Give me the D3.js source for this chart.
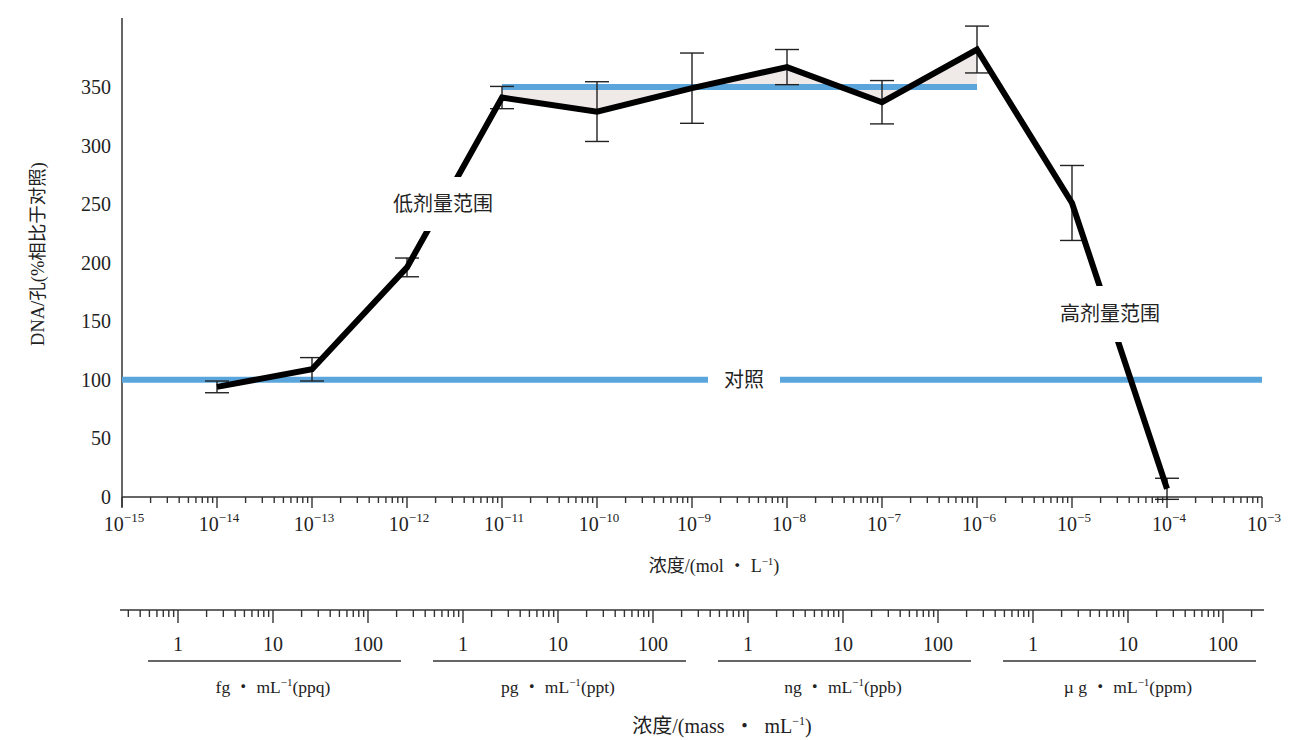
<!DOCTYPE html>
<html>
<head>
<meta charset="utf-8">
<script src="https://cdn.jsdelivr.net/npm/d3@7/dist/d3.min.js"></script>
<style>
  html, body { margin: 0; padding: 0; background: #fff; }
  svg { display: block; }
  text { font-family: "Liberation Serif", "Noto Sans CJK SC", serif; fill: #222; }
  .cjk { font-family: "Noto Sans CJK SC", "Liberation Serif", sans-serif; }
</style>
</head>
<body>
<svg id="chart" width="1294" height="740"></svg>
<script>
// ---------- data ----------
const exponents = [-14, -13, -12, -11, -10, -9, -8, -7, -6, -5, -4];          // mol/L = 10^exp
const dnaValues = [94, 109, 196, 341, 329, 349, 367, 337, 382, 251, 7];        // % of control
const dnaErrors = [5, 10, 8, 9.5, 25.5, 30, 15, 18.5, 20, 32, 9];
const yTicks = [0, 50, 100, 150, 200, 250, 300, 350];
const xDecades = [-15, -14, -13, -12, -11, -10, -9, -8, -7, -6, -5, -4, -3];
const controlValue = 100;
const plateauValue = 350;
const plateauRange = [-11, -6];
const massUnits = ["fg", "pg", "ng", "\u00b5 g"];
const massUnitSuffix = ["(ppq)", "(ppt)", "(ppb)", "(ppm)"];
const massUnitExp = [-15, -12, -9, -6];     // g/mL of 1 unit
const massTickLabels = ["1", "10", "100"];

// ---------- layout ----------
const svg = d3.select("#chart");
const x = d3.scaleLog().domain([1e-15, 1e-3]).range([122, 1262]);
const y = d3.scaleLinear().domain([0, 350]).range([497, 87]);
const BLUE = "#5aa6dc";
const FILL = "#efe9e8";

const pts = exponents.map((e, i) => ({ c: Math.pow(10, e), v: dnaValues[i], err: dnaErrors[i], e }));

// ---------- shaded area between curve and plateau line ----------
const plateauPts = pts.filter(p => p.e >= plateauRange[0] && p.e <= plateauRange[1]);
svg.append("path")
  .datum(plateauPts)
  .attr("d", d3.area().x(d => x(d.c)).y0(y(plateauValue)).y1(d => y(d.v)))
  .attr("fill", FILL);

// ---------- y axis ----------
const y0 = y(0);
svg.append("line").attr("x1", x(1e-15)).attr("x2", x(1e-15))
  .attr("y1", 18).attr("y2", y0 + 10).attr("stroke", "#333").attr("stroke-width", 1.5);
svg.selectAll(".ytl").data(yTicks).enter().append("text")
  .attr("x", 111).attr("y", d => y(d)).attr("dy", "0.35em")
  .attr("text-anchor", "end").attr("font-size", 20).text(d => d);
svg.append("text")
  .attr("transform", `translate(44,254) rotate(-90)`)
  .attr("text-anchor", "middle").attr("font-size", 18.5)
  .text("DNA/孔(%相比于对照)");

// ---------- main x axis ----------
svg.append("line").attr("x1", x(1e-15)).attr("x2", x(1e-3))
  .attr("y1", y0).attr("y2", y0).attr("stroke", "#333").attr("stroke-width", 1.5);
const xt = [];
for (let d = -15; d < -3; d++) for (let k = 2; k <= 9; k++) xt.push({ v: k * Math.pow(10, d), major: false });
xDecades.forEach(d => xt.push({ v: Math.pow(10, d), major: true }));
svg.selectAll(".xtick").data(xt).enter().append("line")
  .attr("x1", d => x(d.v)).attr("x2", d => x(d.v))
  .attr("y1", y0).attr("y2", d => y0 + (d.major ? 11 : 6))
  .attr("stroke", "#333").attr("stroke-width", 1.4);
const xl = svg.selectAll(".xtl").data(xDecades).enter().append("text")
  .attr("x", d => x(Math.pow(10, d)) + 2).attr("y", 531)
  .attr("text-anchor", "middle").attr("font-size", 20);
xl.append("tspan").text("10");
xl.append("tspan").attr("dy", -9).attr("font-size", 13).text(d => "\u2212" + Math.abs(d));
const xt1 = svg.append("text").attr("x", 714).attr("y", 572).attr("text-anchor", "middle").attr("font-size", 18);
xt1.append("tspan").attr("class", "cjk").text("浓度");
xt1.append("tspan").text("/(mol \u30fb L");
xt1.append("tspan").attr("dy", -7).attr("font-size", 11).text("\u22121");
xt1.append("tspan").attr("dy", 7).text(")");

// ---------- reference lines ----------
svg.append("line").attr("x1", x(1e-15)).attr("x2", x(1e-3))
  .attr("y1", y(controlValue)).attr("y2", y(controlValue))
  .attr("stroke", BLUE).attr("stroke-width", 6);
svg.append("line").attr("x1", x(Math.pow(10, plateauRange[0]))).attr("x2", x(Math.pow(10, plateauRange[1])))
  .attr("y1", y(plateauValue)).attr("y2", y(plateauValue))
  .attr("stroke", BLUE).attr("stroke-width", 6);

// ---------- error bars ----------
const eb = svg.selectAll(".eb").data(pts).enter().append("g").attr("stroke", "#222").attr("stroke-width", 1.4);
eb.append("line").attr("x1", d => x(d.c)).attr("x2", d => x(d.c))
  .attr("y1", d => y(d.v + d.err)).attr("y2", d => y(d.v - d.err));
eb.append("line").attr("x1", d => x(d.c) - 12).attr("x2", d => x(d.c) + 12)
  .attr("y1", d => y(d.v + d.err)).attr("y2", d => y(d.v + d.err));
eb.append("line").attr("x1", d => x(d.c) - 12).attr("x2", d => x(d.c) + 12)
  .attr("y1", d => y(d.v - d.err)).attr("y2", d => y(d.v - d.err));

// ---------- data line ----------
svg.append("path").datum(pts)
  .attr("d", d3.line().x(d => x(d.c)).y(d => y(d.v)))
  .attr("fill", "none").attr("stroke", "#000").attr("stroke-width", 6)
  .attr("stroke-linejoin", "miter");

// ---------- labels with white knock-outs ----------
function label(txt, cx, cy, padX, padY, size) {
  const t = svg.append("text").attr("class", "cjk").attr("x", cx).attr("y", cy).attr("dy", "0.35em")
    .attr("text-anchor", "middle").attr("font-size", size).text(txt);
  const bb = t.node().getBBox();
  svg.insert("rect", () => t.node())
    .attr("x", bb.x - padX).attr("y", cy - padY).attr("width", bb.width + 2 * padX).attr("height", 2 * padY)
    .attr("fill", "#fff");
}
label("低剂量范围", 443, 204, 4, 27, 20);
label("高剂量范围", 1110, 314, 4, 28, 20);
label("对照", 744, y(controlValue), 16, 8, 20);

// ---------- mass axis ----------
const massY = 610;
const mx = d3.scaleLog().domain([1e-15, 1e-4]).range([178, 178 + 11 * 95]);
const mStart = 120, mEnd = 1264;
svg.append("line").attr("x1", mStart).attr("x2", mEnd).attr("y1", massY).attr("y2", massY)
  .attr("stroke", "#333").attr("stroke-width", 1.5);
const mt = [];
for (let d = -16; d <= -4; d++) for (let k = 1; k <= 9; k++) {
  const v = k * Math.pow(10, d);
  const px = mx(v);
  if (px >= mStart && px <= mEnd) mt.push({ v, major: k === 1 });
}
svg.selectAll(".mtick").data(mt).enter().append("line")
  .attr("x1", d => mx(d.v)).attr("x2", d => mx(d.v))
  .attr("y1", massY).attr("y2", d => massY + (d.major ? 13 : 7))
  .attr("stroke", "#333").attr("stroke-width", 1.4);
massUnits.forEach((u, i) => {
  const base = Math.pow(10, massUnitExp[i]);
  massTickLabels.forEach((lab, j) => {
    svg.append("text").attr("x", mx(base * Math.pow(10, j))).attr("y", 651)
      .attr("text-anchor", "middle").attr("font-size", 20).text(lab);
  });
  svg.append("line").attr("x1", mx(base) - 30).attr("x2", mx(base * 100) + 33)
    .attr("y1", 661).attr("y2", 661).attr("stroke", "#333").attr("stroke-width", 1.6);
  const t = svg.append("text").attr("x", mx(base * 10)).attr("y", 693)
    .attr("text-anchor", "middle").attr("font-size", 17.5);
  t.append("tspan").text(u + " \u30fb mL");
  t.append("tspan").attr("dy", -7).attr("font-size", 11).text("\u22121");
  t.append("tspan").attr("dy", 7).text(massUnitSuffix[i]);
});
const mt1 = svg.append("text").attr("x", 722).attr("y", 733).attr("text-anchor", "middle").attr("font-size", 20);
mt1.append("tspan").attr("class", "cjk").text("浓度");
mt1.append("tspan").text("/(mass \u00a0\u30fb\u00a0 mL");
mt1.append("tspan").attr("dy", -8).attr("font-size", 12).text("\u22121");
mt1.append("tspan").attr("dy", 8).text(")");
</script>
</body>
</html>
